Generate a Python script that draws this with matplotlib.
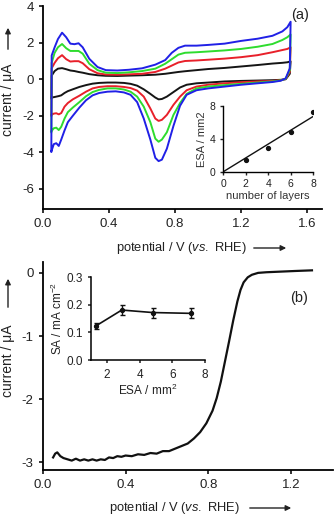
import numpy as np
import matplotlib
matplotlib.use("Agg")
import matplotlib.pyplot as plt

plt.rcParams['font.family'] = ['Liberation Sans', 'DejaVu Sans']
plt.rcParams['mathtext.fontset'] = 'custom'
plt.rcParams['mathtext.rm'] = 'Liberation Sans'
plt.rcParams['mathtext.it'] = 'Liberation Sans:italic'
plt.rcParams['axes.unicode_minus'] = False

# ---- panel (a): cyclic voltammograms ----
E_up = [0.05, 0.052, 0.07, 0.09, 0.115, 0.14, 0.165, 0.19, 0.215, 0.24, 0.28, 0.33, 0.38, 0.45,
        0.52, 0.60, 0.68, 0.74, 0.78, 0.82, 0.86, 0.93, 1.0, 1.1, 1.2, 1.3, 1.39, 1.45, 1.48, 1.50]
E_down = [1.50, 1.495, 1.47, 1.44, 1.39, 1.3, 1.2, 1.1, 1.0, 0.93, 0.87, 0.83, 0.79, 0.75, 0.72,
          0.70, 0.68, 0.65, 0.61, 0.57, 0.53, 0.49, 0.44, 0.39, 0.34, 0.30, 0.26, 0.22, 0.18,
          0.15, 0.13, 0.11, 0.095, 0.08, 0.065, 0.05]

blue_up = [-3.95, 1.3, 1.75, 2.2, 2.55, 2.3, 1.95, 1.92, 1.97, 1.75, 1.12, 0.67, 0.5, 0.48, 0.52,
           0.6, 0.8, 1.05, 1.45, 1.72, 1.84, 1.84, 1.88, 1.95, 2.1, 2.22, 2.38, 2.62, 2.85, 3.15]
green_up = [-2.9, 0.9, 1.45, 1.75, 1.93, 1.7, 1.55, 1.55, 1.55, 1.4, 0.85, 0.5, 0.36, 0.34, 0.38,
            0.45, 0.58, 0.85, 1.1, 1.35, 1.45, 1.48, 1.52, 1.58, 1.66, 1.78, 1.93, 2.15, 2.3, 2.45]
red_up = [-2.0, 0.6, 0.9, 1.15, 1.32, 1.1, 0.97, 0.99, 0.99, 0.88, 0.55, 0.33, 0.26, 0.25, 0.27,
          0.3, 0.4, 0.58, 0.75, 0.92, 1.0, 1.03, 1.07, 1.13, 1.21, 1.32, 1.48, 1.6, 1.66, 1.75]
black_up = [-1.05, 0.2, 0.45, 0.58, 0.61, 0.55, 0.48, 0.45, 0.4, 0.36, 0.28, 0.22, 0.19, 0.18, 0.2,
            0.22, 0.25, 0.3, 0.35, 0.4, 0.44, 0.5, 0.56, 0.62, 0.7, 0.78, 0.86, 0.9, 0.93, 0.98]

blue_down = [3.15, 0.6, 0.05, -0.08, -0.15, -0.22, -0.3, -0.4, -0.5, -0.6, -0.85, -1.45, -2.55,
             -3.8, -4.4, -4.48, -4.3, -3.3, -2.15, -1.25, -0.85, -0.72, -0.66, -0.68, -0.75,
             -0.88, -1.15, -1.55, -2.0, -2.35, -2.8, -3.3, -3.65, -3.5, -3.55, -3.95]
green_down = [2.45, 0.5, 0.03, -0.06, -0.12, -0.18, -0.25, -0.32, -0.4, -0.5, -0.8, -1.3, -1.95,
              -2.9, -3.3, -3.42, -3.25, -2.35, -1.5, -0.95, -0.68, -0.56, -0.5, -0.5, -0.58,
              -0.7, -0.93, -1.25, -1.55, -1.8, -2.15, -2.6, -2.78, -2.65, -2.68, -2.85]
red_down = [1.75, 0.4, 0.02, -0.05, -0.09, -0.12, -0.16, -0.22, -0.3, -0.4, -0.6, -0.95, -1.4,
            -1.95, -2.22, -2.28, -2.15, -1.6, -0.95, -0.62, -0.48, -0.42, -0.38, -0.38, -0.42,
            -0.5, -0.68, -0.9, -1.1, -1.3, -1.5, -1.85, -1.92, -1.86, -1.88, -1.95]
black_down = [0.98, 0.3, 0.0, -0.03, -0.05, -0.07, -0.09, -0.12, -0.18, -0.22, -0.3, -0.45, -0.7,
              -0.95, -1.08, -1.1, -1.0, -0.8, -0.55, -0.35, -0.25, -0.2, -0.18, -0.18, -0.2,
              -0.24, -0.32, -0.42, -0.55, -0.65, -0.75, -0.88, -0.92, -0.95, -0.98, -1.0]

# inset (a)
layers = [2, 4, 6, 8]
esa_layers = [1.4, 2.9, 4.8, 7.2]

# ---- panel (b): LSV ----
E_lsv = [0.05, 0.06, 0.07, 0.085, 0.10, 0.12, 0.14, 0.16, 0.18, 0.20, 0.22, 0.24, 0.26, 0.28,
         0.30, 0.32, 0.34, 0.36, 0.38, 0.40, 0.43, 0.46, 0.49, 0.52, 0.55, 0.58, 0.61, 0.64,
         0.67, 0.70, 0.73, 0.76, 0.79, 0.82, 0.84, 0.86, 0.88, 0.90, 0.92, 0.94, 0.955, 0.97,
         0.99, 1.01, 1.04, 1.08, 1.15, 1.22, 1.30]
I_lsv = [-2.92, -2.86, -2.84, -2.9, -2.93, -2.95, -2.97, -2.94, -2.97, -2.95, -2.97, -2.95,
         -2.97, -2.95, -2.96, -2.92, -2.93, -2.9, -2.91, -2.89, -2.9, -2.87, -2.88, -2.85,
         -2.86, -2.82, -2.82, -2.78, -2.74, -2.7, -2.62, -2.52, -2.38, -2.18, -1.98, -1.72,
         -1.4, -1.08, -0.75, -0.45, -0.27, -0.15, -0.07, -0.03, 0.0, 0.01, 0.02, 0.03, 0.04]

# inset (b)
esa = [1.32, 2.9, 4.8, 7.17]
sa = [0.124, 0.181, 0.172, 0.169]
sa_err = [0.012, 0.018, 0.018, 0.018]

colors = {'black': '#151515', 'red': '#e8202a', 'green': '#2edc2e', 'blue': '#2020e6'}
txt = '#222222'
H = 516


def style(ax, lw=1.3, fs=9.5, tl=3):
    for s in ['top', 'right']:
        ax.spines[s].set_visible(False)
    for s in ['left', 'bottom']:
        ax.spines[s].set_linewidth(lw)
    ax.tick_params(direction='out', length=tl, width=lw, labelsize=fs, colors=txt)


def arrow(fig, x0, y0, x1, y1):
    # coordinates in pixels from top-left
    fig.add_artist(plt.matplotlib.patches.FancyArrowPatch(
        (x0, H - y0), (x1, H - y1), transform=None, arrowstyle='-|>',
        mutation_scale=8, lw=1.0, color=txt))


fig = plt.figure(figsize=(3.34, 5.16), dpi=100)

# panel (a)
ax1 = fig.add_axes([0.129, 0.595, 0.835, 0.393])
for name, up, down in [('black', black_up, black_down), ('red', red_up, red_down),
                       ('green', green_up, green_down), ('blue', blue_up, blue_down)]:
    ax1.plot(E_up + E_down, up + down, color=colors[name], lw=1.4, solid_joinstyle='round')
ax1.set_xlim(0, 1.69)
ax1.set_ylim(-7.1, 4)
ax1.set_xticks([0.0, 0.4, 0.8, 1.2, 1.6])
ax1.set_xticklabels(['0.0', '0.4', '0.8', '1.2', '1.6'])
ax1.set_yticks([-6, -4, -2, 0, 2, 4])
style(ax1)
ax1.text(1.556, 3.53, '(a)', fontsize=10.5, ha='center', va='center', color=txt)

fig.text(8 / 334, 1 - 100 / H, 'current / μA', rotation=90, ha='center', va='center',
         fontsize=10, color=txt)
arrow(fig, 8, 52, 8, 25)
fig.text(181 / 334, 1 - 248 / H, 'potential / V ($\\mathit{vs.}$ RHE)', ha='center', va='center',
         fontsize=9.3, color=txt)
arrow(fig, 251, 248, 289, 248)

ins1 = fig.add_axes([0.668, 0.667, 0.27, 0.128])
ins1.plot(layers, esa_layers, 'o', color='#111111', ms=2.8)
slope = np.dot(layers, esa_layers) / np.dot(layers, layers)
ins1.plot([0, 8], [0, 8 * slope], color='#111111', lw=1.0)
ins1.set_xlim(0, 8)
ins1.set_ylim(0, 8)
ins1.set_xticks([0, 2, 4, 6, 8])
ins1.set_yticks([0, 4, 8])
style(ins1, lw=1.0, fs=7.5, tl=2)
ins1.set_ylabel('ESA / mm2', fontsize=8, color='#333333', labelpad=2)
ins1.set_xlabel('number of layers', fontsize=8, color='#333333', labelpad=1)

# panel (b)
ax2 = fig.add_axes([0.128, 0.089, 0.868, 0.403])
ax2.plot(E_lsv, I_lsv, color='#111111', lw=1.6, solid_joinstyle='round')
ax2.set_xlim(0, 1.40)
ax2.set_ylim(-3.12, 0.17)
ax2.set_xticks([0.0, 0.4, 0.8, 1.2])
ax2.set_xticklabels(['0.0', '0.4', '0.8', '1.2'])
ax2.set_yticks([-3, -2, -1, 0])
style(ax2)
ax2.text(1.24, -0.40, '(b)', fontsize=10.5, ha='center', va='center', color=txt)

fig.text(8 / 334, 1 - 361 / H, 'current / μA', rotation=90, ha='center', va='center',
         fontsize=10, color=txt)
arrow(fig, 8, 310, 8, 276)
fig.text(174 / 334, 1 - 508 / H, 'potential / V ($\\mathit{vs.}$ RHE)', ha='center', va='center',
         fontsize=9.3, color=txt)
arrow(fig, 247, 508, 294, 508)

ins2 = fig.add_axes([0.272, 0.302, 0.341, 0.161])
ins2.errorbar(esa, sa, yerr=sa_err, fmt='o-', color='#111111', ms=2.8, lw=1.2,
              capsize=1.8, elinewidth=1.0, capthick=1.0)
ins2.set_xlim(1, 8)
ins2.set_ylim(0, 0.3)
ins2.set_xticks([2, 4, 6, 8])
ins2.set_yticks([0.0, 0.1, 0.2, 0.3])
ins2.set_yticklabels(['0.0', '0.1', '0.2', '0.3'])
style(ins2, lw=1.1, fs=8.5, tl=2.5)
ins2.set_ylabel('SA / mA cm$^{-2}$', fontsize=8.5, color=txt, labelpad=1)
ins2.set_xlabel('ESA / mm$^{2}$', fontsize=8.5, color=txt, labelpad=2)

fig.savefig('out.png', dpi=100)
